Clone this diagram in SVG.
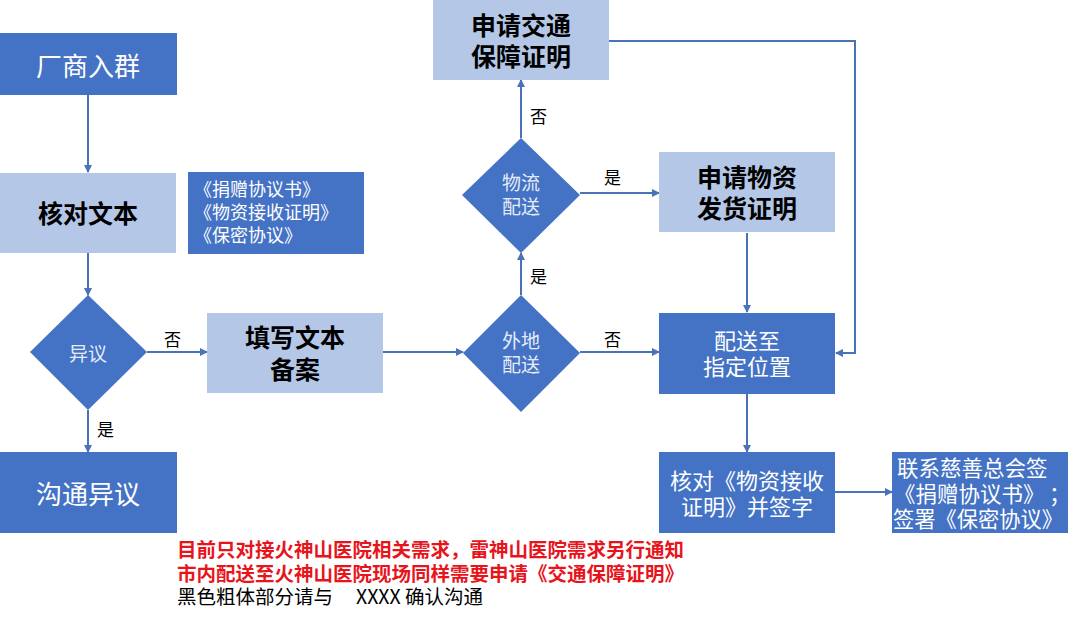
<svg xmlns="http://www.w3.org/2000/svg" width="1080" height="619" viewBox="0 0 1080 619">
<defs>
<marker id="arr" markerWidth="8" markerHeight="8" refX="7" refY="4" orient="auto" markerUnits="userSpaceOnUse">
<path d="M0,0 L8,4 L0,8 Z" fill="#4A72B8"/>
</marker>
<style>
text{font-family:"Noto Sans CJK SC","Noto Sans",sans-serif;}
.dk{fill:#4472C4;}
.lt{fill:#B4C7E7;}
.wt{fill:#FFFFFF;text-anchor:middle;}
.bk{fill:#000000;text-anchor:middle;font-weight:bold;font-size:25px;}
.dt{fill:#E6ECF7;text-anchor:middle;font-size:19px;}
.lbl{fill:#000000;font-size:17px;}
.ln{stroke:#4A72B8;stroke-width:2;fill:none;}
.red{fill:#E8141C;font-size:19.5px;font-weight:600;}
.note{fill:#000000;font-size:19.5px;}
</style>
</defs>
<rect width="1080" height="619" fill="#FFFFFF"/>

<g id="connectors">
<line class="ln" x1="88" y1="95" x2="88" y2="172" marker-end="url(#arr)"/>
<line class="ln" x1="88" y1="253" x2="88" y2="295" marker-end="url(#arr)"/>
<line class="ln" x1="147" y1="352" x2="207" y2="352" marker-end="url(#arr)"/>
<line class="ln" x1="88" y1="410" x2="88" y2="452" marker-end="url(#arr)"/>
<line class="ln" x1="383" y1="352" x2="463" y2="352" marker-end="url(#arr)"/>
<line class="ln" x1="521" y1="295" x2="521" y2="253" marker-end="url(#arr)"/>
<line class="ln" x1="521" y1="138" x2="521" y2="80" marker-end="url(#arr)"/>
<line class="ln" x1="580" y1="193" x2="659" y2="193" marker-end="url(#arr)"/>
<line class="ln" x1="580" y1="352" x2="659" y2="352" marker-end="url(#arr)"/>
<line class="ln" x1="747" y1="233" x2="747" y2="312" marker-end="url(#arr)"/>
<polyline class="ln" points="609,41 855,41 855,353 836,353" marker-end="url(#arr)"/>
<line class="ln" x1="747" y1="394" x2="747" y2="452" marker-end="url(#arr)"/>
<line class="ln" x1="835" y1="492" x2="892" y2="492" marker-end="url(#arr)"/>
<text class="lbl" x="164" y="346">否</text>
<text class="lbl" x="97" y="436">是</text>
<text class="lbl" x="530" y="123">否</text>
<text class="lbl" x="530" y="283">是</text>
<text class="lbl" x="604" y="184">是</text>
<text class="lbl" x="604" y="346">否</text>
</g>

<g id="n-changshang">
<rect class="dk" x="0" y="33" width="177" height="62"/>
<text class="wt" x="88" y="76" font-size="26">厂商入群</text>
</g>

<g id="n-hedui">
<rect class="lt" x="0" y="173" width="176" height="80"/>
<text class="bk" x="88" y="223" font-size="26">核对文本</text>
</g>

<g id="n-docs">
<rect class="dk" x="188" y="172" width="176" height="82"/>
<text fill="#FFFFFF" font-size="18" x="194" y="196">《捐赠协议书》</text>
<text fill="#FFFFFF" font-size="18" x="194" y="219">《物资接收证明》</text>
<text fill="#FFFFFF" font-size="18" x="194" y="242">《保密协议》</text>
</g>

<g id="n-yiyi">
<polygon class="dk" points="88,295 147,352 88,410 30,352"/>
<text class="dt" x="88" y="361">异议</text>
</g>

<g id="n-goutong">
<rect class="dk" x="0" y="452" width="177" height="81"/>
<text class="wt" x="88" y="504" font-size="26">沟通异议</text>
</g>

<g id="n-tianxie">
<rect class="lt" x="207" y="313" width="176" height="80"/>
<text class="bk" x="295" y="347">填写文本</text>
<text class="bk" x="295" y="379">备案</text>
</g>

<g id="n-waidi">
<polygon class="dk" points="521,295 580,353 521,412 463,353"/>
<text class="dt" x="521" y="348">外地</text>
<text class="dt" x="521" y="372">配送</text>
</g>

<g id="n-wuliu">
<polygon class="dk" points="521,138 580,195 521,253 462,195"/>
<text class="dt" x="521" y="190">物流</text>
<text class="dt" x="521" y="214">配送</text>
</g>

<g id="n-jiaotong">
<rect class="lt" x="433" y="0" width="176" height="80"/>
<text class="bk" x="521" y="35">申请交通</text>
<text class="bk" x="521" y="66">保障证明</text>
</g>

<g id="n-fahuo">
<rect class="lt" x="659" y="152" width="176" height="80"/>
<text class="bk" x="747" y="187">申请物资</text>
<text class="bk" x="747" y="218">发货证明</text>
</g>

<g id="n-peisong">
<rect class="dk" x="659" y="313" width="176" height="81"/>
<text class="wt" x="747" y="349" font-size="22">配送至</text>
<text class="wt" x="747" y="375" font-size="22">指定位置</text>
</g>

<g id="n-qianzi">
<rect class="dk" x="659" y="452" width="176" height="81"/>
<text class="wt" x="747" y="489" font-size="22">核对《物资接收</text>
<text class="wt" x="747" y="515" font-size="22">证明》并签字</text>
</g>

<g id="n-cishan">
<rect class="dk" x="892" y="452" width="176" height="81"/>
<text fill="#FFFFFF" font-size="21.5" x="897" y="476">联系慈善总会签</text>
<text fill="#FFFFFF" font-size="21.5" x="894" y="502">《捐赠协议书》</text>
<text fill="#FFFFFF" font-size="21.5" x="1049" y="502">；</text>
<text fill="#FFFFFF" font-size="21.5" x="893" y="527" textLength="170" lengthAdjust="spacingAndGlyphs">签署《保密协议》</text>
</g>

<g id="notes">
<text class="red" x="177" y="557">目前只对接火神山医院相关需求，雷神山医院需求另行通知</text>
<text class="red" x="177" y="581">市内配送至火神山医院现场同样需要申请《交通保障证明》</text>
<text class="note" x="177" y="604">黑色粗体部分请与</text>
<text class="note" x="356" y="604">XXXX 确认沟通</text>
</g>
</svg>
